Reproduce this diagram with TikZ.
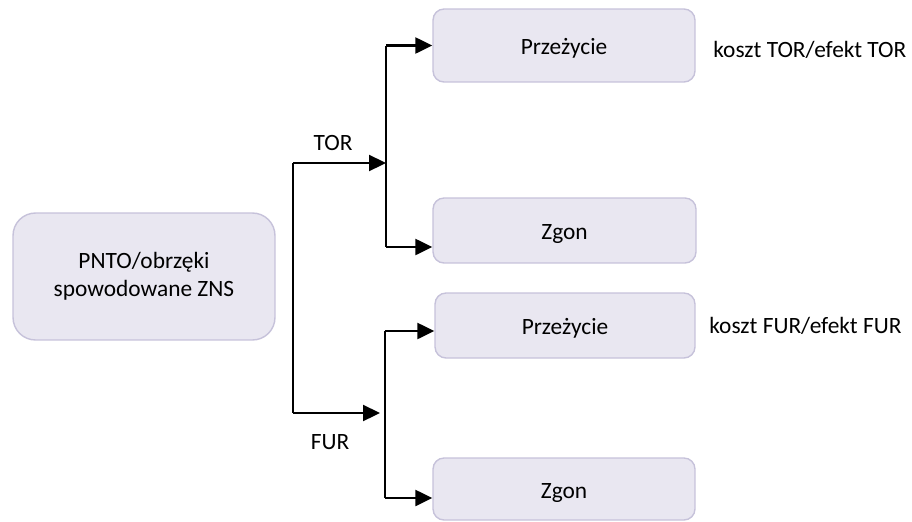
\documentclass[tikz,border=0pt]{standalone}
\usepackage{fontspec}
\setmainfont{Carlito}
\usetikzlibrary{arrows.meta,calc}

\definecolor{boxfill}{HTML}{E9E7F1}
\definecolor{boxline}{HTML}{C6C2DA}

\begin{document}
\begin{tikzpicture}[x=0.02cm, y=-0.02cm,
     every node/.style={font=\fontsize{13.3}{16}\selectfont},
     state/.style={draw=boxline, line width=0.8pt, fill=boxfill, rounded corners=0.22cm,
                   align=center, inner sep=0pt},
     outcome/.style={state, text height=1.3em, text depth=0.25em},
     branch/.style={line width=1.3pt},
     arr/.style={branch, -{Triangle[length=0.34cm,width=0.32cm]}}]

   \useasboundingbox (0,0) rectangle (912,521);

   % boxes
   \node[state, minimum width=5.24cm, minimum height=2.54cm, rounded corners=0.45cm] (start) at (144,276.5)
        {PNTO/obrzęki\\spowodowane ZNS};
   \node[outcome, minimum width=5.24cm, minimum height=1.46cm] (torsurv) at (564,45.5) {Przeżycie};
   \node[outcome, minimum width=5.26cm, minimum height=1.30cm] (tordead) at (564.5,230.5) {Zgon};
   \node[outcome, minimum width=5.20cm, minimum height=1.30cm] (fursurv) at (565,325.5) {Przeżycie};
   \node[outcome, minimum width=5.24cm, minimum height=1.24cm] (furdead) at (564,489) {Zgon};

   % labels
   \node (tor) at (333,143) {TOR};
   \node (fur) at (330,442) {FUR};
   \node[anchor=west, inner sep=0pt] (torcost) at (713,50) {koszt TOR/efekt TOR};
   \node[anchor=west, inner sep=0pt] (furcost) at (709,326) {koszt FUR/efekt FUR};

   % tree
   \coordinate (trunktop) at (293,163);
   \coordinate (trunkbot) at (293,413);
   \coordinate (torsplit) at (386,163);
   \coordinate (fursplit) at (385,413);

   \draw[branch] (trunktop) -- (trunkbot);
   \draw[arr] (trunktop) -- (torsplit);
   \draw[arr] (trunkbot) -- ($(fursplit)+(-5,0)$);

   \draw[branch] (torsplit |- torsurv.west) -- ($(torsplit |- tordead.west)+(0,16.5)$);
   \draw[arr] (torsplit |- torsurv.west) -- (torsurv.west);
   \draw[arr] ($(torsplit |- tordead.west)+(0,16.5)$) -- ($(tordead.west)+(0,16.5)$);

   \draw[branch] ($(fursplit |- fursurv.west)+(0,5.5)$) -- ($(fursplit |- furdead.west)+(0,9)$);
   \draw[arr] ($(fursplit |- fursurv.west)+(0,5.5)$) -- ($(fursurv.west)+(0,5.5)$);
   \draw[arr] ($(fursplit |- furdead.west)+(0,9)$) -- ($(furdead.west)+(0,9)$);
\end{tikzpicture}
\end{document}
